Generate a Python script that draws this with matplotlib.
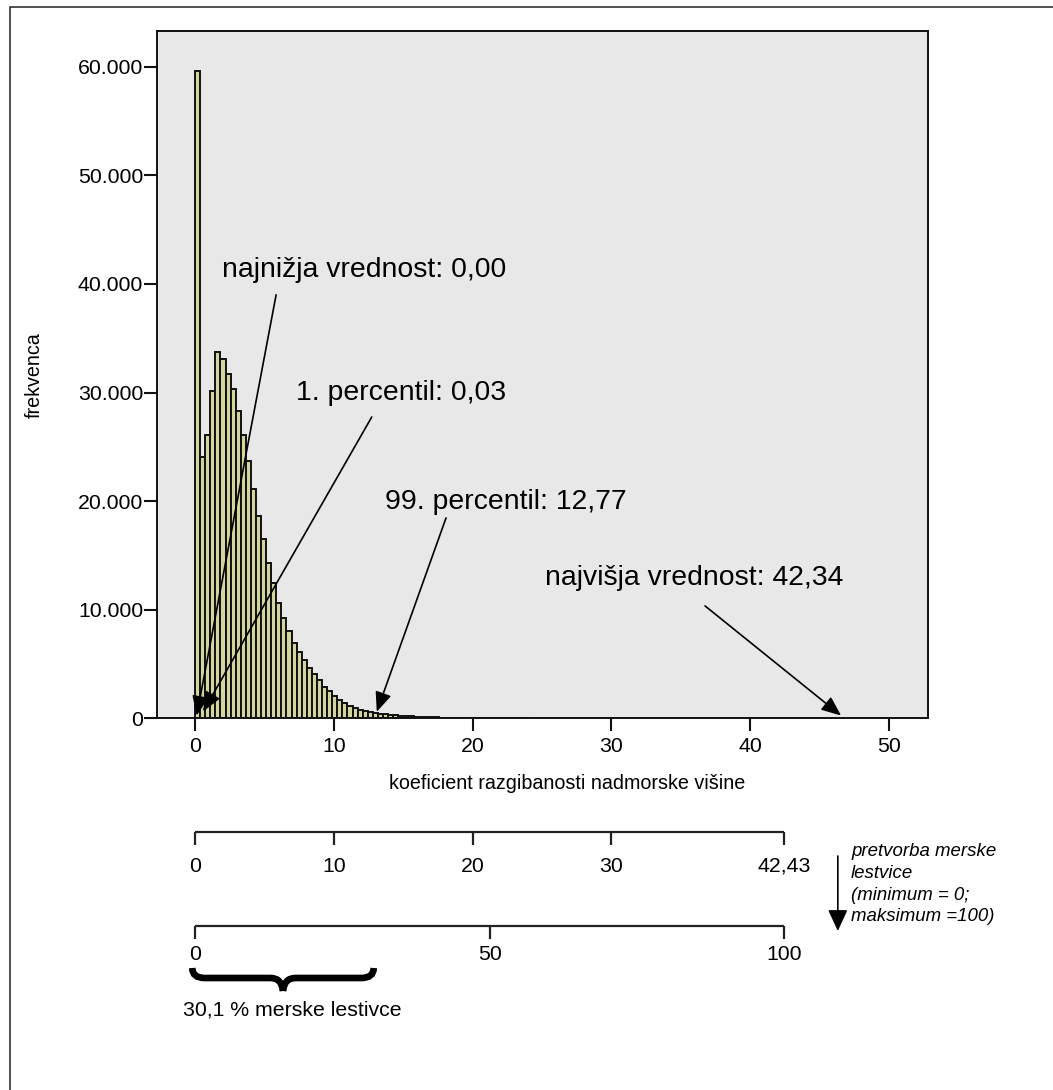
"""
histogram of the elevation roughness coefficient
  with the min / percentile / max markers and the rescaling to a 0-100 scale
"""

import numpy as np
import matplotlib
matplotlib.use('Agg')
import matplotlib.pyplot as plt
from matplotlib.patches import Rectangle
from matplotlib.path import Path
from matplotlib.patches import PathPatch
from matplotlib.ticker import FuncFormatter

plt.rcParams['font.family'] = ['Liberation Sans', 'DejaVu Sans']

# histogram bins (width of one class) and frequencies per class
bin_width = 0.366
counts = [59600, 24100, 26100, 30100, 33700, 33100, 31700, 30300, 28300, 26100,
          23700, 21100, 18600, 16500, 14300, 12500, 10600, 9200, 8000, 6950,
          6100, 5350, 4650, 4050, 3500, 2900, 2480, 2080, 1700, 1400,
          1120, 950, 800, 680, 580, 490, 430, 370, 310, 270,
          240, 210, 180, 155, 135, 115, 100, 85, 72, 62,
          53, 45, 38, 32, 27, 23, 19, 16, 13, 11,
          9, 7, 6, 5, 4, 3]

# annotated statistics: label, text anchor, arrow start, arrow tip
stat_labels = ['najnižja vrednost: 0,00', '1. percentil: 0,03',
               '99. percentil: 12,77', 'najvišja vrednost: 42,34']
stat_text_xy = [(1.95, 41300), (7.28, 29950), (13.69, 19950), (25.2, 12950)]
stat_arrow_from = [(5.84, 39000), (12.73, 27750), (18.08, 18450), (36.74, 10350)]
stat_arrow_to = [(0.12, 250), (0.58, 620), (13.09, 600), (46.54, 250)]

# original scale and the 0-100 rescaled one
max_value = 42.43
orig_ticks = [0, 10, 20, 30, 42.43]
orig_labels = ['0', '10', '20', '30', '42,43']
pct_ticks = [0, 50, 100]
pct_labels = ['0', '50', '100']
pct_used = 30.1

W, H = 1053, 1090
fig = plt.figure(figsize=(W / 100, H / 100), dpi=100)
fig.patch.set_facecolor('white')

# frame around the whole figure (runs off the right and bottom edge)
fig.add_artist(Rectangle((10 / W, -0.05), 1.1, 1 - 7 / H + 0.05,
                         transform=fig.transFigure, fill=False,
                         edgecolor='#222222', linewidth=1.1))

x0, x1 = 157, 928
ytop, ybot = 31, 718.3
ax = fig.add_axes([x0 / W, 1 - ybot / H, (x1 - x0) / W, (ybot - ytop) / H])
ax.set_facecolor('#E8E8E8')

edges = np.arange(len(counts)) * bin_width
ax.bar(edges, counts, width=bin_width, align='edge', color='#D4D49E',
       edgecolor='#111111', linewidth=1.4, zorder=2)

ax.set_xlim(-2.74, 52.8)
ax.set_ylim(0, 63300)
ax.set_xticks([0, 10, 20, 30, 40, 50])
ax.set_yticks(range(0, 60001, 10000))
ax.yaxis.set_major_formatter(FuncFormatter(lambda v, p: f'{v:,.0f}'.replace(',', '.')))
ax.tick_params(axis='both', which='major', length=9.5, width=1.5, labelsize=15.3, color='#111111')
ax.tick_params(axis='x', pad=4)
ax.tick_params(axis='y', pad=0.5)
ax.minorticks_off()
for s in ax.spines.values():
    s.set_linewidth(1.4)
    s.set_color('#111111')

ax.set_xlabel('koeficient razgibanosti nadmorske višine', fontsize=14.2)
ax.xaxis.set_label_coords((567 - x0) / (x1 - x0), -0.081)
ax.set_ylabel('frekvenca', fontsize=14.2)
ax.yaxis.set_label_coords(-0.147, 0.5)

arrow_style = dict(arrowstyle='-|>,head_length=0.6,head_width=0.25', mutation_scale=20,
                   color='black', lw=1.2, shrinkA=0, shrinkB=0)
for lab, txy, a_from, a_to in zip(stat_labels, stat_text_xy, stat_arrow_from, stat_arrow_to):
    ax.text(txy[0], txy[1], lab, fontsize=20.4, ha='left', va='center', zorder=5)
    ax.annotate('', xy=a_to, xytext=a_from, arrowprops=arrow_style, zorder=6,
                annotation_clip=False)

# lower panel shares the x data scale, y is in pixels from the top
yp0 = 725
sc = fig.add_axes([x0 / W, 0, (x1 - x0) / W, (H - yp0) / H])
sc.set_xlim(ax.get_xlim())
sc.set_ylim(H, yp0)
sc.axis('off')

line_kw = dict(color='#222222', linewidth=1.6, solid_capstyle='butt', clip_on=False)

# original scale
y_line = 831.7
sc.plot([0, max_value], [y_line, y_line], **line_kw)
for t, lab in zip(orig_ticks, orig_labels):
    sc.plot([t, t], [y_line, y_line + 13], **line_kw)
    sc.text(t, 866, lab, fontsize=15.3, ha='center', va='center')

# rescaled 0-100
y_line2 = 926
sc.plot([0, max_value], [y_line2, y_line2], **line_kw)
for p, lab in zip(pct_ticks, pct_labels):
    t = p / 100 * max_value
    sc.plot([t, t], [y_line2, y_line2 + 13], **line_kw)
    sc.text(t, 954, lab, fontsize=15.3, ha='center', va='center')

# curly brace under the used part of the scale
bx0, bx1 = -0.2, pct_used / 100 * max_value + 0.1
bmid = (bx0 + bx1) / 2
yt, ym, yb = 968, 978, 991
dx = 0.9
verts = [(bx0, yt), (bx0, ym), (bx0 + dx, ym), (bmid - dx, ym), (bmid - dx * 0.1, ym),
         (bmid, yb), (bmid, yb), (bmid, yb), (bmid + dx * 0.1, ym), (bmid + dx, ym),
         (bx1 - dx, ym), (bx1, ym), (bx1, yt)]
codes = [Path.MOVETO, Path.CURVE3, Path.CURVE3, Path.LINETO, Path.CURVE3,
         Path.CURVE3, Path.MOVETO, Path.MOVETO, Path.CURVE3, Path.CURVE3,
         Path.LINETO, Path.CURVE3, Path.CURVE3]
brace = PathPatch(Path(verts, codes), fill=False, edgecolor='black', linewidth=4.8,
                  capstyle='butt', clip_on=False)
sc.add_patch(brace)
sc.text(-0.9, 1010, '30,1 % merske lestivce', fontsize=15.3, ha='left', va='center')

# conversion note with a downward arrow
xa = (837.7 - 195) / 13.88
sc.annotate('', xy=(xa, 931), xytext=(xa, 856),
            arrowprops=dict(arrowstyle='-|>,head_length=0.65,head_width=0.3', mutation_scale=20,
                            color='black', lw=1.2, shrinkA=0, shrinkB=0),
            annotation_clip=False)
note_lines = ['pretvorba merske', 'lestvice', '(minimum = 0;', 'maksimum =100)']
xn = (851 - 195) / 13.88
for i, line in enumerate(note_lines):
    sc.text(xn, 852 + i * 21.5, line, fontsize=13.4, style='italic', ha='left', va='center')

fig.savefig('out.png', dpi=100, facecolor=fig.get_facecolor())
